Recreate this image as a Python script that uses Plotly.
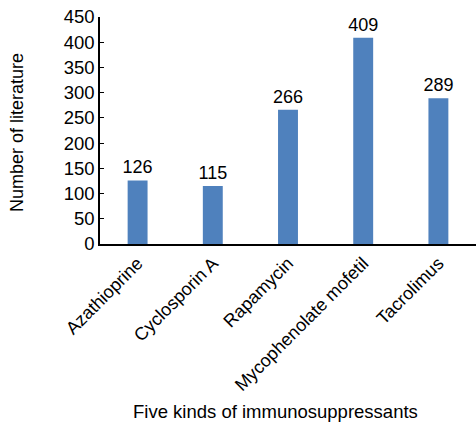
import plotly.graph_objects as go

drugs = ["Azathioprine", "Cyclosporin A", "Rapamycin", "Mycophenolate mofetil", "Tacrolimus"]
counts = [126, 115, 266, 409, 289]
y_ticks = [0, 50, 100, 150, 200, 250, 300, 350, 400, 450]

font_family = "Liberation Sans, Arial, sans-serif"

fig = go.Figure(
    go.Bar(
        x=drugs,
        y=counts,
        width=0.265,
        marker=dict(color="#4F81BD", line=dict(width=0)),
        text=[str(c) for c in counts],
        textposition="outside",
        constraintext="none",
        textfont=dict(size=18, color="#000000", family=font_family),
        cliponaxis=False,
    )
)

fig.update_layout(
    width=476,
    height=425,
    margin=dict(l=100, r=0, t=17, b=181),
    paper_bgcolor="white",
    plot_bgcolor="white",
    showlegend=False,
    font=dict(family=font_family, color="#000000"),
    xaxis=dict(
        tickangle=-45,
        tickfont=dict(size=18),
        showline=True,
        linecolor="#000000",
        linewidth=1.5,
        ticks="",
        showgrid=False,
        automargin=False,
    ),
    yaxis=dict(
        range=[0, 450],
        tickvals=y_ticks,
        tickfont=dict(size=18.5),
        showline=True,
        linecolor="#000000",
        linewidth=1.5,
        ticks="inside",
        ticklen=4,
        tickcolor="#000000",
        showgrid=False,
        zeroline=False,
        automargin=False,
    ),
    annotations=[
        dict(
            text="Five kinds of immunosuppressants",
            xref="paper", yref="paper",
            x=(275 - 100) / 376, y=-(411 - 244) / 227,
            xanchor="center", yanchor="middle",
            showarrow=False,
            font=dict(size=18.5),
        ),
        dict(
            text="Number of literature",
            xref="paper", yref="paper",
            x=-(100 - 17) / 376, y=(244 - 133) / 227,
            xanchor="center", yanchor="middle",
            textangle=-90,
            showarrow=False,
            font=dict(size=18),
        ),
    ],
)

fig.write_html("out.html")
